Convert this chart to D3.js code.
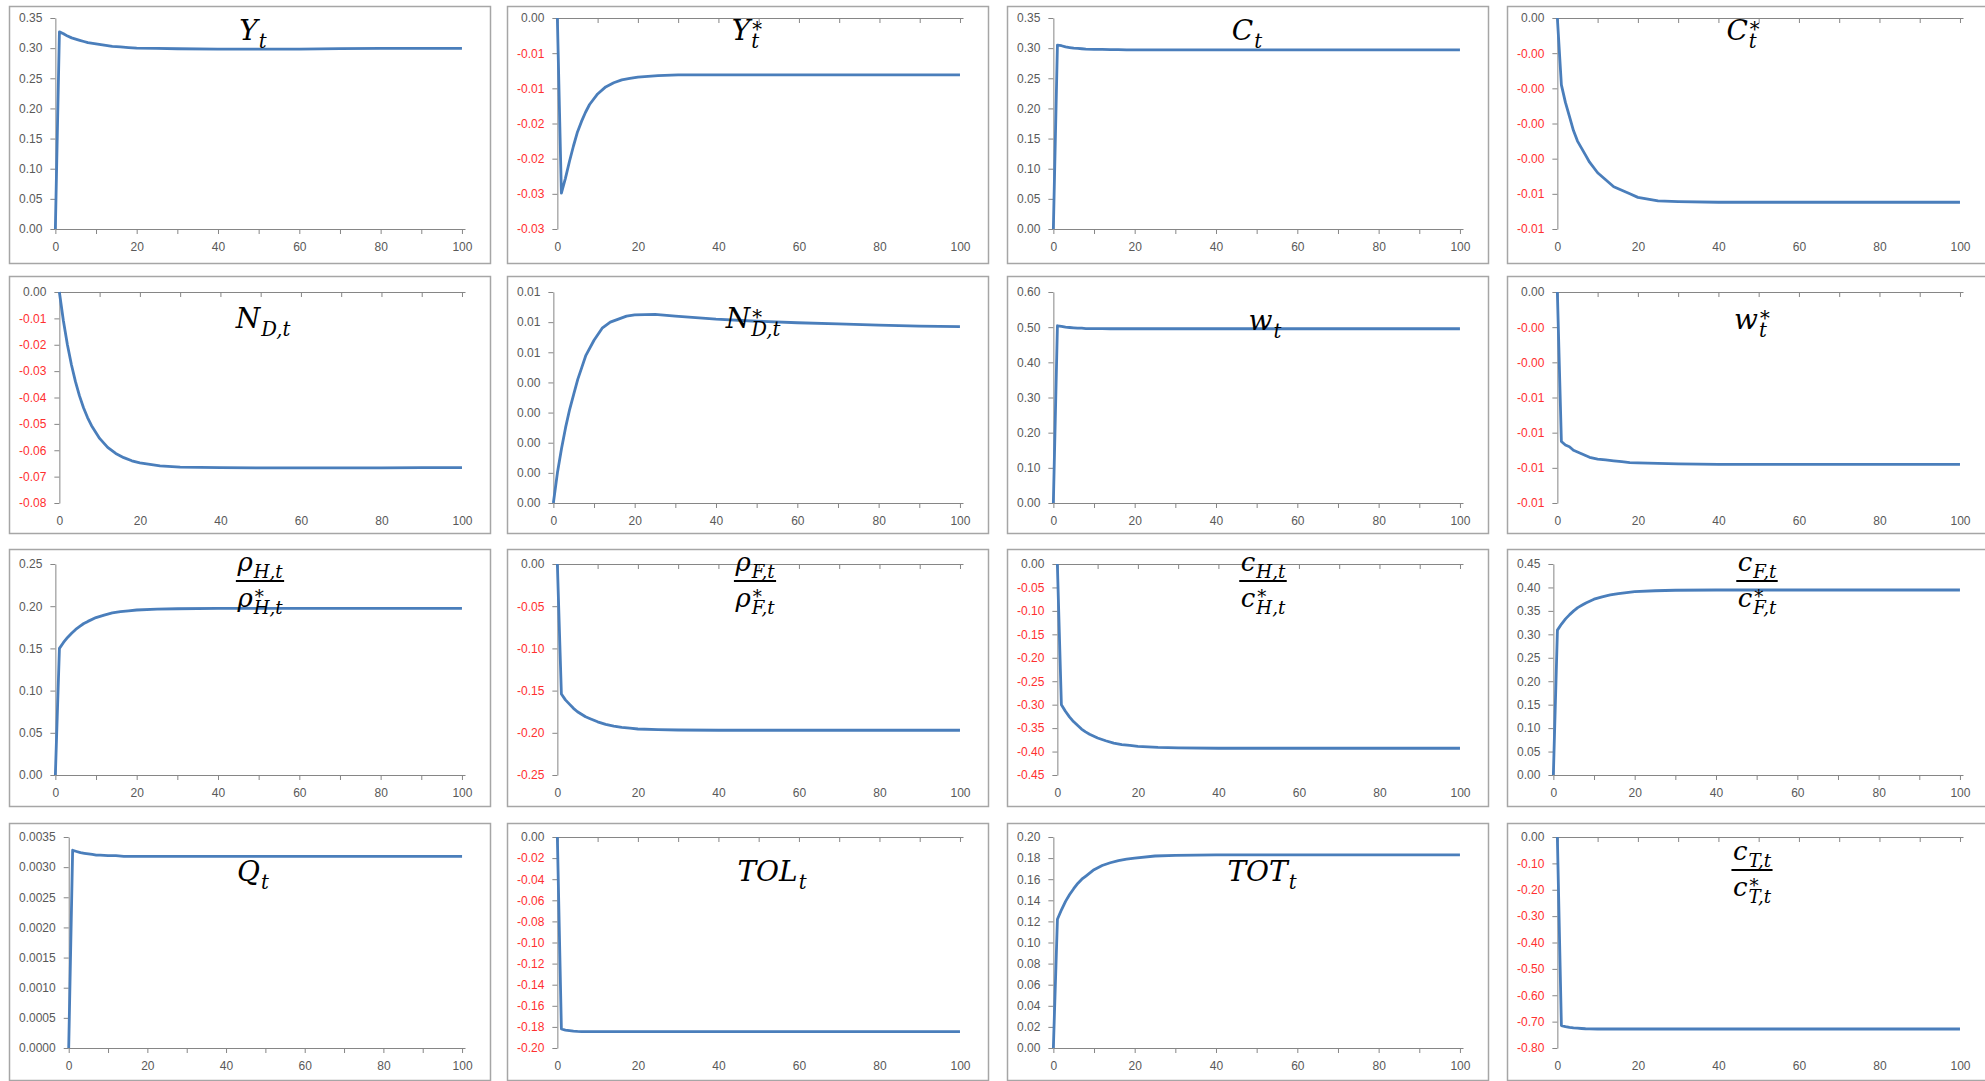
<!DOCTYPE html>
<html>
<head>
<meta charset="utf-8">
<script src="https://cdnjs.cloudflare.com/ajax/libs/d3/7.8.5/d3.min.js"></script>
<style>
  body { margin: 0; background: #fff; }
  text.math { font-family: "DejaVu Serif", serif; font-style: italic; fill: #000; }
</style>
</head>
<body>
<script>

// periods of the impulse responses (sparser where the paths are flat)
const periods = [0, 1, 2, 3, 4, 5, 6, 7, 8, 10, 12, 14, 16, 18, 20, 25, 30, 40, 50, 60, 70, 80, 90, 100];

// series
const Yt      = [0, 0.327, 0.324, 0.320, 0.317, 0.315, 0.313, 0.311, 0.309, 0.307, 0.305, 0.303, 0.302, 0.301, 0.300, 0.2995, 0.299, 0.2985, 0.2985, 0.2985, 0.2993, 0.2995, 0.2995, 0.2995];
const YtStar  = [0, -0.0249, -0.0228, -0.0204, -0.0182, -0.0162, -0.0147, -0.0134, -0.0123, -0.0108, -0.0098, -0.0092, -0.0088, -0.0086, -0.0084, -0.0082, -0.0081, -0.0081, -0.0081, -0.0081, -0.0081, -0.0081, -0.0081, -0.0081];
const Ct      = [0, 0.305, 0.304, 0.302, 0.301, 0.300, 0.2995, 0.299, 0.2985, 0.298, 0.298, 0.2975, 0.2975, 0.297, 0.297, 0.297, 0.297, 0.297, 0.297, 0.297, 0.297, 0.297, 0.297, 0.297];
const CtStar  = [0, -0.0019, -0.0024, -0.0028, -0.0032, -0.0035, -0.0037, -0.0039, -0.0041, -0.0044, -0.0046, -0.0048, -0.0049, -0.0050, -0.0051, -0.0052, -0.00522, -0.00524, -0.00524, -0.00524, -0.00524, -0.00524, -0.00524, -0.00524];
const NDt     = [0, -0.0109, -0.0200, -0.0276, -0.0340, -0.0394, -0.0439, -0.0476, -0.0507, -0.0555, -0.0589, -0.0612, -0.0628, -0.0640, -0.0648, -0.0659, -0.0664, -0.0666, -0.0667, -0.0667, -0.0667, -0.0667, -0.0666, -0.0666];
const NDtStar = [0, 0.0010, 0.0018, 0.0025, 0.0031, 0.0036, 0.0041, 0.0045, 0.0049, 0.0054, 0.0058, 0.0060, 0.0061, 0.0062, 0.00624, 0.00626, 0.0062, 0.0061, 0.00603, 0.00598, 0.00594, 0.0059, 0.00587, 0.00585];
const wt      = [0, 0.504, 0.502, 0.500, 0.499, 0.498, 0.497, 0.497, 0.496, 0.496, 0.4958, 0.4955, 0.4955, 0.4955, 0.4955, 0.4955, 0.4955, 0.4955, 0.4955, 0.4955, 0.4955, 0.4955, 0.4955, 0.4955];
const wtStar  = [0, -0.0085, -0.0087, -0.0088, -0.0090, -0.0091, -0.0092, -0.0093, -0.0094, -0.0095, -0.00955, -0.0096, -0.00965, -0.0097, -0.00972, -0.00975, -0.00978, -0.0098, -0.0098, -0.0098, -0.0098, -0.0098, -0.0098, -0.0098];
const rhoH    = [0, 0.150, 0.157, 0.163, 0.168, 0.1725, 0.176, 0.1795, 0.182, 0.1865, 0.1895, 0.192, 0.1935, 0.1945, 0.1955, 0.1966, 0.197, 0.1975, 0.1975, 0.1975, 0.1975, 0.1975, 0.1975, 0.1975];
const rhoF    = [0, -0.154, -0.161, -0.166, -0.171, -0.175, -0.178, -0.181, -0.183, -0.187, -0.190, -0.192, -0.1935, -0.1945, -0.1955, -0.1963, -0.1967, -0.197, -0.197, -0.197, -0.197, -0.197, -0.197, -0.197];
const cH      = [0, -0.300, -0.314, -0.326, -0.336, -0.344, -0.352, -0.358, -0.363, -0.371, -0.377, -0.382, -0.385, -0.387, -0.389, -0.391, -0.392, -0.393, -0.393, -0.393, -0.393, -0.393, -0.393, -0.393];
const cF      = [0, 0.309, 0.322, 0.333, 0.342, 0.350, 0.357, 0.362, 0.367, 0.375, 0.380, 0.384, 0.387, 0.389, 0.391, 0.393, 0.394, 0.3945, 0.3945, 0.3945, 0.3945, 0.3945, 0.3945, 0.3945];
const Qt      = [0, 0.00328, 0.00326, 0.00324, 0.00323, 0.00322, 0.00321, 0.00320, 0.00320, 0.00319, 0.00319, 0.00318, 0.00318, 0.00318, 0.00318, 0.00318, 0.00318, 0.00318, 0.00318, 0.00318, 0.00318, 0.00318, 0.00318, 0.00318];
const TOLt    = [0, -0.182, -0.183, -0.1835, -0.184, -0.1843, -0.1845, -0.1845, -0.1845, -0.1845, -0.1845, -0.1845, -0.1845, -0.1845, -0.1845, -0.1845, -0.1845, -0.1845, -0.1845, -0.1845, -0.1845, -0.1845, -0.1845, -0.1845];
const TOTt    = [0, 0.122, 0.131, 0.139, 0.1455, 0.151, 0.156, 0.160, 0.163, 0.169, 0.173, 0.1756, 0.1777, 0.179, 0.180, 0.182, 0.1825, 0.183, 0.183, 0.183, 0.183, 0.183, 0.183, 0.183];
const cT      = [0, -0.715, -0.719, -0.722, -0.724, -0.725, -0.726, -0.727, -0.7275, -0.728, -0.728, -0.728, -0.728, -0.728, -0.728, -0.728, -0.728, -0.728, -0.728, -0.728, -0.728, -0.728, -0.728, -0.728];

// y tick values + the labels excel printed (rounded to 2 dp, hence the repeats)
const ticksYt = [0, 0.05, 0.10, 0.15, 0.20, 0.25, 0.30, 0.35];
const labelsYt = ["0.00", "0.05", "0.10", "0.15", "0.20", "0.25", "0.30", "0.35"];
const ticksYstar = [-0.03, -0.025, -0.02, -0.015, -0.01, -0.005, 0];
const labelsYstar = ["-0.03", "-0.03", "-0.02", "-0.02", "-0.01", "-0.01", "0.00"];
const ticksCstar = [-0.006, -0.005, -0.004, -0.003, -0.002, -0.001, 0];
const labelsCstar = ["-0.01", "-0.01", "-0.00", "-0.00", "-0.00", "-0.00", "0.00"];
const ticksND = [-0.08, -0.07, -0.06, -0.05, -0.04, -0.03, -0.02, -0.01, 0];
const labelsND = ["-0.08", "-0.07", "-0.06", "-0.05", "-0.04", "-0.03", "-0.02", "-0.01", "0.00"];
const ticksNDstar = [0, 0.001, 0.002, 0.003, 0.004, 0.005, 0.006, 0.007];
const labelsNDstar = ["0.00", "0.00", "0.00", "0.00", "0.00", "0.01", "0.01", "0.01"];
const ticksW = [0, 0.1, 0.2, 0.3, 0.4, 0.5, 0.6];
const labelsW = ["0.00", "0.10", "0.20", "0.30", "0.40", "0.50", "0.60"];
const ticksWstar = [-0.012, -0.010, -0.008, -0.006, -0.004, -0.002, 0];
const labelsWstar = ["-0.01", "-0.01", "-0.01", "-0.01", "-0.00", "-0.00", "0.00"];
const ticksRhoH = [0, 0.05, 0.10, 0.15, 0.20, 0.25];
const labelsRhoH = ["0.00", "0.05", "0.10", "0.15", "0.20", "0.25"];
const ticksRhoF = [-0.25, -0.20, -0.15, -0.10, -0.05, 0];
const labelsRhoF = ["-0.25", "-0.20", "-0.15", "-0.10", "-0.05", "0.00"];
const ticksCH = [-0.45, -0.40, -0.35, -0.30, -0.25, -0.20, -0.15, -0.10, -0.05, 0];
const labelsCH = ["-0.45", "-0.40", "-0.35", "-0.30", "-0.25", "-0.20", "-0.15", "-0.10", "-0.05", "0.00"];
const ticksCF = [0, 0.05, 0.10, 0.15, 0.20, 0.25, 0.30, 0.35, 0.40, 0.45];
const labelsCF = ["0.00", "0.05", "0.10", "0.15", "0.20", "0.25", "0.30", "0.35", "0.40", "0.45"];
const ticksQ = [0, 0.0005, 0.0010, 0.0015, 0.0020, 0.0025, 0.0030, 0.0035];
const labelsQ = ["0.0000", "0.0005", "0.0010", "0.0015", "0.0020", "0.0025", "0.0030", "0.0035"];
const ticksTOL = [-0.20, -0.18, -0.16, -0.14, -0.12, -0.10, -0.08, -0.06, -0.04, -0.02, 0];
const labelsTOL = ["-0.20", "-0.18", "-0.16", "-0.14", "-0.12", "-0.10", "-0.08", "-0.06", "-0.04", "-0.02", "0.00"];
const ticksTOT = [0, 0.02, 0.04, 0.06, 0.08, 0.10, 0.12, 0.14, 0.16, 0.18, 0.20];
const labelsTOT = ["0.00", "0.02", "0.04", "0.06", "0.08", "0.10", "0.12", "0.14", "0.16", "0.18", "0.20"];
const ticksCT = [-0.8, -0.7, -0.6, -0.5, -0.4, -0.3, -0.2, -0.1, 0];
const labelsCT = ["-0.80", "-0.70", "-0.60", "-0.50", "-0.40", "-0.30", "-0.20", "-0.10", "0.00"];

// x axis
const xTicks = [0, 10, 20, 30, 40, 50, 60, 70, 80, 90, 100];
const xLabels = ["0", "", "20", "", "40", "", "60", "", "80", "", "100"];

// titles (base letter, subscript, superscript)
const titles = [
  {base: "Y", sub: "t"}, {base: "Y", sub: "t", sup: "*"}, {base: "C", sub: "t"}, {base: "C", sub: "t", sup: "*"},
  {base: "N", sub: "D,t"}, {base: "N", sub: "D,t", sup: "*"}, {base: "w", sub: "t"}, {base: "w", sub: "t", sup: "*"},
  {num: {base: "ρ", sub: "H,t"}, den: {base: "ρ", sub: "H,t", sup: "*"}},
  {num: {base: "ρ", sub: "F,t"}, den: {base: "ρ", sub: "F,t", sup: "*"}},
  {num: {base: "c", sub: "H,t"}, den: {base: "c", sub: "H,t", sup: "*"}},
  {num: {base: "c", sub: "F,t"}, den: {base: "c", sub: "F,t", sup: "*"}},
  {base: "Q", sub: "t"}, {base: "TOL", sub: "t"}, {base: "TOT", sub: "t"},
  {num: {base: "c", sub: "T,t"}, den: {base: "c", sub: "T,t", sup: "*"}}
];

// build the panel table from the arrays above
const series = [Yt, YtStar, Ct, CtStar, NDt, NDtStar, wt, wtStar, rhoH, rhoF, cH, cF, Qt, TOLt, TOTt, cT];
const tickSets = [ticksYt, ticksYstar, ticksYt, ticksCstar, ticksND, ticksNDstar, ticksW, ticksWstar,
                  ticksRhoH, ticksRhoF, ticksCH, ticksCF, ticksQ, ticksTOL, ticksTOT, ticksCT];
const labelSets = [labelsYt, labelsYstar, labelsYt, labelsCstar, labelsND, labelsNDstar, labelsW, labelsWstar,
                   labelsRhoH, labelsRhoF, labelsCH, labelsCF, labelsQ, labelsTOL, labelsTOT, labelsCT];

// layout
const width = 1985, height = 1081;
const colLeft = [9, 507, 1007, 1507];
const rowTop = [6, 276, 549, 823];
const plotTopOff = [12, 16, 15, 14];
const panelW = 481, panelH = 257, plotH = 211, plotRightOff = 456;
// title anchor (center x, baseline or fraction bar y), relative to the panel
const titleDX = [244, 240, 240, 236, 254, 246, 258, 245, 251, 248, 256, 250, 244, 265, 255, 245];
const titleDY = [34, 34, 34, 34, 52, 52, 54, 53, 32, 32, 32, 32, 58, 58, 58, 47];

const axisColor = "#868686";
const labelGray = "#595959";
const labelRed = "#ff3030";
const lineBlue = "#4a7ebb";

const svg = d3.select("body").append("svg")
  .attr("width", width)
  .attr("height", height)
  .style("display", "block");

svg.append("rect").attr("width", width).attr("height", height).attr("fill", "#fff");

// base + stacked sub/superscript as tspans of one text, centred on cx
function addMath(txt, cx, baseY, spec, size) {
  const ss = size * 0.7;
  const b = txt.append("tspan").style("font-size", size + "px").text(spec.base);
  const bw = b.node().getComputedTextLength();
  let sub = null, sup = null, w = bw;
  if (spec.sub) {
    sub = txt.append("tspan").style("font-size", ss + "px").text(spec.sub);
    w = Math.max(w, bw + 1 + sub.node().getComputedTextLength());
  }
  if (spec.sup) {
    sup = txt.append("tspan").style("font-size", ss + "px").text(spec.sup);
    w = Math.max(w, bw + 2 + sup.node().getComputedTextLength());
  }
  const x0 = cx - w / 2;
  b.attr("x", x0).attr("y", baseY);
  if (sub) sub.attr("x", x0 + bw + 1).attr("y", baseY + size * 0.27);
  if (sup) sup.attr("x", x0 + bw + 2).attr("y", baseY - size * 0.14);
  return w;
}

function drawTitle(g, cx, y, spec) {
  const txt = g.append("text").attr("class", "math");
  if (!spec.num) {
    addMath(txt, cx, y, spec, 28);
    return;
  }
  // fraction: numerator, bar, denominator
  const wn = addMath(txt, cx, y - 10, spec.num, 26);
  const wd = addMath(txt, cx, y + 26, spec.den, 26);
  const bw = Math.max(wn, wd) + 3;
  g.append("line")
    .attr("x1", cx - bw / 2).attr("x2", cx + bw / 2)
    .attr("y1", y).attr("y2", y)
    .attr("stroke", "#000").attr("stroke-width", 2);
}

series.forEach((vals, i) => {
  const r = Math.floor(i / 4), c = i % 4;
  const left = colLeft[c], top = rowTop[r];
  const ticks = tickSets[i], labels = labelSets[i];
  const g = svg.append("g");

  // chart frame
  g.append("rect")
    .attr("x", left + 0.5).attr("y", top + 0.5)
    .attr("width", panelW).attr("height", panelH)
    .attr("fill", "#fff")
    .attr("stroke", "#a6a6a6")
    .attr("stroke-width", 1.5);

  // measure the widest y label so the plot starts where excel would put it
  const probe = g.append("text")
    .style("font-family", "'Liberation Sans', Arial, sans-serif")
    .style("font-size", "12px");
  let maxW = 0;
  labels.forEach(l => { probe.text(l); maxW = Math.max(maxW, probe.node().getComputedTextLength()); });
  probe.remove();

  const plotLeft = left + 23 + maxW;
  const plotRight = left + plotRightOff;
  const plotTop = top + plotTopOff[r];
  const plotBottom = plotTop + plotH;

  const xScale = d3.scaleLinear().domain([0, 100.75]).range([plotLeft, plotRight]);
  const yScale = d3.scaleLinear().domain(d3.extent(ticks)).range([plotBottom, plotTop]);

  // y axis
  const yAxis = d3.axisLeft(yScale)
    .tickValues(ticks)
    .tickFormat((d, j) => labels[j])
    .tickSize(5)
    .tickSizeOuter(0)
    .tickPadding(8);
  const yG = g.append("g")
    .attr("transform", "translate(" + plotLeft + ",0)")
    .call(yAxis);
  yG.select(".domain").attr("stroke", axisColor);
  yG.selectAll(".tick line").attr("stroke", axisColor);
  yG.selectAll(".tick text")
    .attr("font-family", "'Liberation Sans', Arial, sans-serif")
    .attr("font-size", 12)
    .attr("fill", d => d < 0 ? labelRed : labelGray);

  // x axis line sits at zero (top when everything is negative), ticks hang down
  const xAxis = d3.axisBottom(xScale)
    .tickValues(xTicks)
    .tickFormat("")
    .tickSize(5)
    .tickSizeOuter(0);
  const xG = g.append("g")
    .attr("transform", "translate(0," + yScale(0) + ")")
    .call(xAxis);
  xG.select(".domain").attr("stroke", axisColor);
  xG.selectAll(".tick line").attr("stroke", axisColor);

  // x labels always at the bottom of the plot
  const xLab = d3.axisBottom(xScale)
    .tickValues(xTicks)
    .tickFormat((d, j) => xLabels[j])
    .tickSize(0)
    .tickPadding(13);
  const xlG = g.append("g")
    .attr("transform", "translate(0," + plotBottom + ")")
    .call(xLab);
  xlG.select(".domain").remove();
  xlG.selectAll(".tick text")
    .attr("font-family", "'Liberation Sans', Arial, sans-serif")
    .attr("font-size", 12)
    .attr("fill", labelGray);

  // the response path
  const line = d3.line()
    .x((d, j) => xScale(periods[j]))
    .y(d => yScale(d));
  g.append("path")
    .datum(vals)
    .attr("d", line)
    .attr("fill", "none")
    .attr("stroke", lineBlue)
    .attr("stroke-width", 2.8)
    .attr("stroke-linejoin", "round");

  // title
  drawTitle(g, left + titleDX[i], top + titleDY[i], titles[i]);
});

</script>
</body>
</html>
